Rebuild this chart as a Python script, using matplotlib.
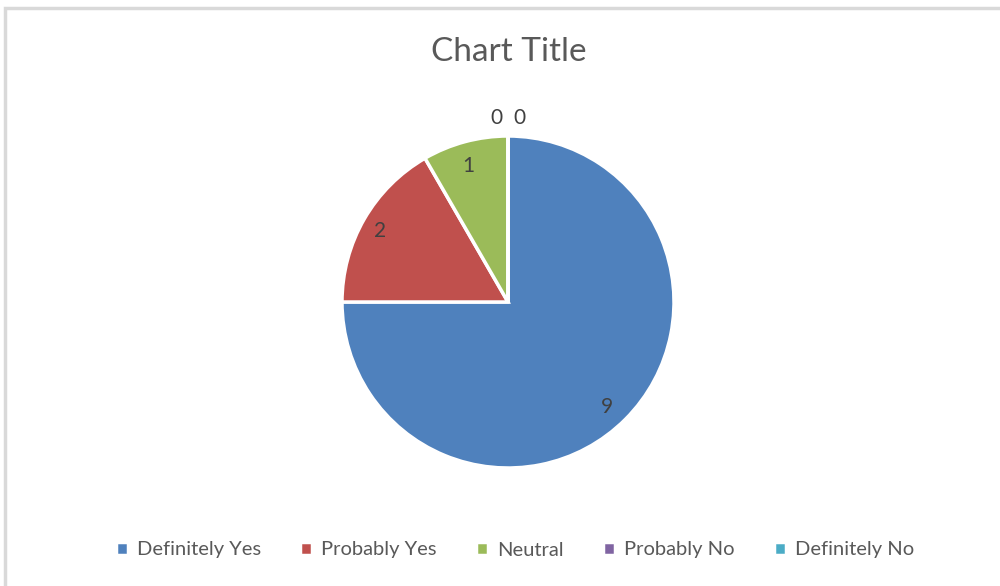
import matplotlib.pyplot as plt
from matplotlib.patches import Rectangle

categories = ['Definitely Yes', 'Probably Yes', 'Neutral', 'Probably No', 'Definitely No']
values = [9, 2, 1, 0, 0]
colors = ['#4F81BD', '#C0504D', '#9BBB59', '#8064A2', '#4BACC6']

plt.rcParams['font.family'] = ['Lato', 'DejaVu Sans']

W, H = 1000, 586
fig = plt.figure(figsize=(W / 100, H / 100), dpi=100)

# chart area border (right/bottom edges run off the image)
fig.add_artist(Rectangle((5 / W, -0.1), 1.2, (H - 8) / H + 0.1, transform=fig.transFigure,
                         fill=False, edgecolor='#D9D9D9', linewidth=2.5))

# pie axes: centre (508, 302) px, radius 166 px
cx, cy, r = 508, 302, 166
ax = fig.add_axes([(cx - r) / W, (H - cy - r) / H, 2 * r / W, 2 * r / H])
wedges, texts = ax.pie(values, colors=colors, startangle=90, counterclock=False,
                       labels=[str(v) for v in values], labeldistance=0.85,
                       wedgeprops=dict(edgecolor='white', linewidth=2.5),
                       textprops=dict(fontsize=15, color='#404040'))
ax.set_xlim(-1, 1)
ax.set_ylim(-1, 1)
ax.set_aspect('equal')
ax.axis('off')

# nudge labels to where Excel's best-fit put them
texts[0].set_position((0.56, -0.63))
texts[2].set_position((-0.2, 0.82))
# zero slices: Excel pushes their labels just outside the top of the pie
zero_offsets = [-0.07, 0.07]
k = 0
for t, v in zip(texts, values):
    if v == 0:
        t.set_position((zero_offsets[k], 1.11))
        t.set_ha('center')
        t.set_va('center')
        k += 1

fig.text(509 / W, 1 - 52 / H, 'Chart Title', ha='center', va='center',
         fontsize=24, color='#595959')

fig.legend(wedges, categories, loc='center', bbox_to_anchor=(515 / W, 1 - 550 / H),
           ncol=5, frameon=False, fontsize=14.5, labelcolor='#595959',
           handlelength=0.6, handleheight=0.6, handletextpad=0.45, columnspacing=1.95)

fig.savefig('out.png', dpi=100)
